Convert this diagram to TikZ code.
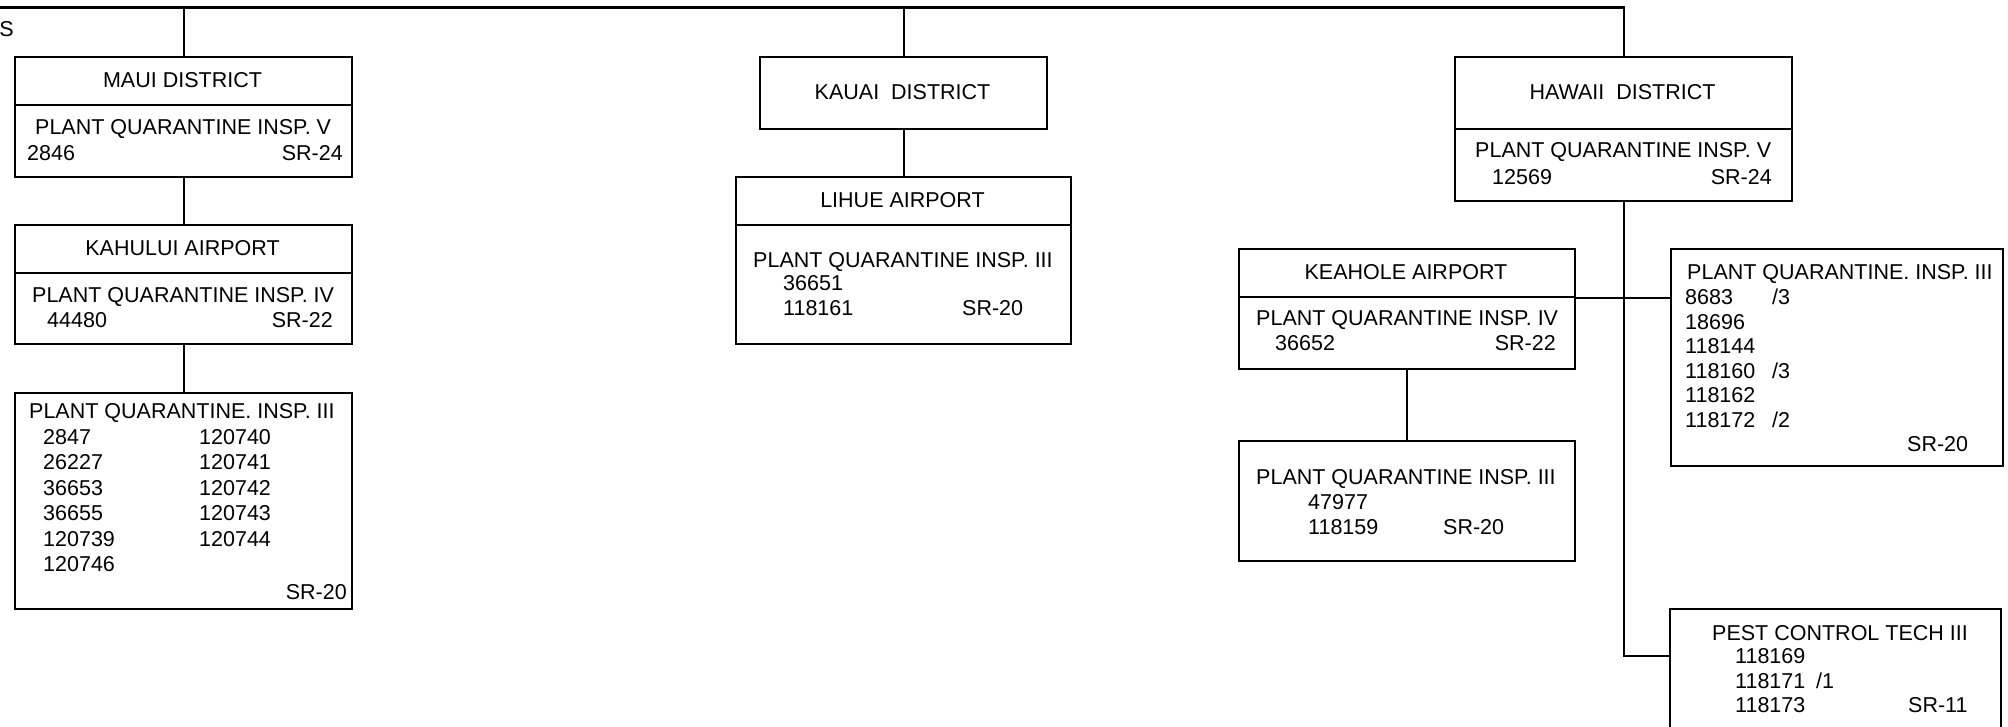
\documentclass[tikz,border=0pt]{standalone}
\usepackage{fontspec}
\setmainfont{Liberation Sans}
\usetikzlibrary{calc}
\begin{document}
\begin{tikzpicture}[x=1pt,y=-1pt,
  font=\fontsize{21.5}{25}\selectfont,
  box/.style={draw, line width=2.2pt, inner sep=0pt, anchor=north west},
  conn/.style={line width=2.2pt},
  txt/.style={inner sep=0pt, anchor=base west},
  ctr/.style={inner sep=0pt, anchor=base},
  rt/.style={inner sep=0pt, anchor=base east}]
\clip (0,0) rectangle (2008,726);
\fill[white] (0,0) rectangle (2008,726);

% ---- boxes ----
\node[box, minimum width=337pt, minimum height=48pt] (mauiT) at (14,56) {};
\node[box, minimum width=337pt, minimum height=72pt] (mauiB) at (14,104) {};
\node[box, minimum width=337pt, minimum height=48pt] (kahT) at (14,224) {};
\node[box, minimum width=337pt, minimum height=71pt] (kahB) at (14,272) {};
\node[box, minimum width=337pt, minimum height=216pt] (m3) at (14,392) {};

\node[box, minimum width=287pt, minimum height=72pt] (kauai) at (759,56) {};
\node[box, minimum width=335pt, minimum height=48pt] (lihT) at (735,176) {};
\node[box, minimum width=335pt, minimum height=119pt] (lihB) at (735,224) {};

\node[box, minimum width=337pt, minimum height=72pt] (hawT) at (1454,56) {};
\node[box, minimum width=337pt, minimum height=72pt] (hawB) at (1454,128) {};
\node[box, minimum width=336pt, minimum height=48pt] (keaT) at (1238,248) {};
\node[box, minimum width=336pt, minimum height=72pt] (keaB) at (1238,296) {};
\node[box, minimum width=336pt, minimum height=120pt] (k3) at (1238,440) {};
\node[box, minimum width=332pt, minimum height=217pt] (r3) at (1670,248) {};
\node[box, minimum width=331pt, minimum height=200pt] (pest) at (1669,608) {};

% ---- connectors ----
\coordinate (topleft) at (0,7.5);
\coordinate (pestin) at ($(pest.north west)+(0,48)$);
\draw[conn] (topleft) -| (hawT.north);
\draw[conn] (mauiT.north) -- (mauiT.north |- topleft);
\draw[conn] (kauai.north) -- (kauai.north |- topleft);
\draw[conn] (mauiB.south) -- (kahT.north);
\draw[conn] (kahB.south) -- (m3.north);
\draw[conn] (kauai.south) -- (lihT.north);
\draw[conn] (hawB.south) |- (pestin);
\draw[conn] (keaT.south east) -- (keaT.south east -| r3.west);
\draw[conn] (keaB.south) -- (k3.north);

% ---- texts ----
\node[rt] (cut) at (14,36.2) {S};

\node[ctr] (mauiTt) at (182.5,87.7) {MAUI DISTRICT};
\node[txt] (mauiB1) at (35,134.7) {PLANT QUARANTINE INSP. V};
\node[txt] (mauiB2) at (27,160.7) {2846};
\node[rt] (mauiB3) at (343,160.7) {SR-24};

\node[ctr] (kahTt) at (182.5,255.2) {KAHULUI AIRPORT};
\node[txt] (kahB1) at (32,302.7) {PLANT QUARANTINE INSP. IV};
\node[txt] (kahB2) at (47,327.7) {44480};
\node[rt] (kahB3) at (333,327.7) {SR-22};

\node[txt] (m3t) at (29,418.7) {PLANT QUARANTINE. INSP. III};
\foreach \n [count=\i] in {2847,26227,36653,36655,120739,120746}
  \node[txt] (m3a\i) at (43,{444.2+25.5*(\i-1)}) {\n};
\foreach \n [count=\i] in {120740,120741,120742,120743,120744}
  \node[txt] (m3b\i) at (199,{444.2+25.5*(\i-1)}) {\n};
\node[rt] (m3sr) at (347,599.7) {SR-20};

\node[ctr] (kauait) at (902.5,99.7) {KAUAI\ \ DISTRICT};
\node[ctr] (lihTt) at (902.5,207.7) {LIHUE AIRPORT};
\node[txt] (lih1) at (753,267.7) {PLANT QUARANTINE INSP. III};
\node[txt] (lih2) at (783,290.7) {36651};
\node[txt] (lih3) at (783,315.7) {118161};
\node[txt] (lih4) at (962,315.7) {SR-20};

\node[ctr] (hawTt) at (1622.5,99.7) {HAWAII\ \ DISTRICT};
\node[txt] (haw1) at (1475,157.7) {PLANT QUARANTINE INSP. V};
\node[txt] (haw2) at (1492,184.7) {12569};
\node[rt] (haw3) at (1772,184.7) {SR-24};

\node[ctr] (keaTt) at (1406,279.7) {KEAHOLE AIRPORT};
\node[txt] (kea1) at (1256,325.7) {PLANT QUARANTINE INSP. IV};
\node[txt] (kea2) at (1275,350.7) {36652};
\node[rt] (kea3) at (1556,350.7) {SR-22};

\node[txt] (k31) at (1256,484.7) {PLANT QUARANTINE INSP. III};
\node[txt] (k32) at (1308,509.7) {47977};
\node[txt] (k33) at (1308,534.7) {118159};
\node[txt] (k34) at (1443,534.7) {SR-20};

\node[txt] (r3t) at (1687,279.7) {PLANT QUARANTINE. INSP. III};
\foreach \n [count=\i] in {8683,18696,118144,118160,118162,118172}
  \node[txt] (r3a\i) at (1685,{304.7+24.5*(\i-1)}) {\n};
\node[txt] (r3s1) at (1772,304.7) {/3};
\node[txt] (r3s4) at (1772,378.2) {/3};
\node[txt] (r3s6) at (1772,427.2) {/2};
\node[txt] (r3sr) at (1907,451.7) {SR-20};

\node[txt] (pestt) at (1712,640.7) {PEST CONTROL TECH III};
\foreach \n [count=\i] in {118169,118171,118173}
  \node[txt] (pa\i) at (1735,{663.7+24.5*(\i-1)}) {\n};
\node[txt] (ps2) at (1816,688.2) {/1};
\node[txt] (psr) at (1908,712.7) {SR-11};
\end{tikzpicture}
\end{document}
